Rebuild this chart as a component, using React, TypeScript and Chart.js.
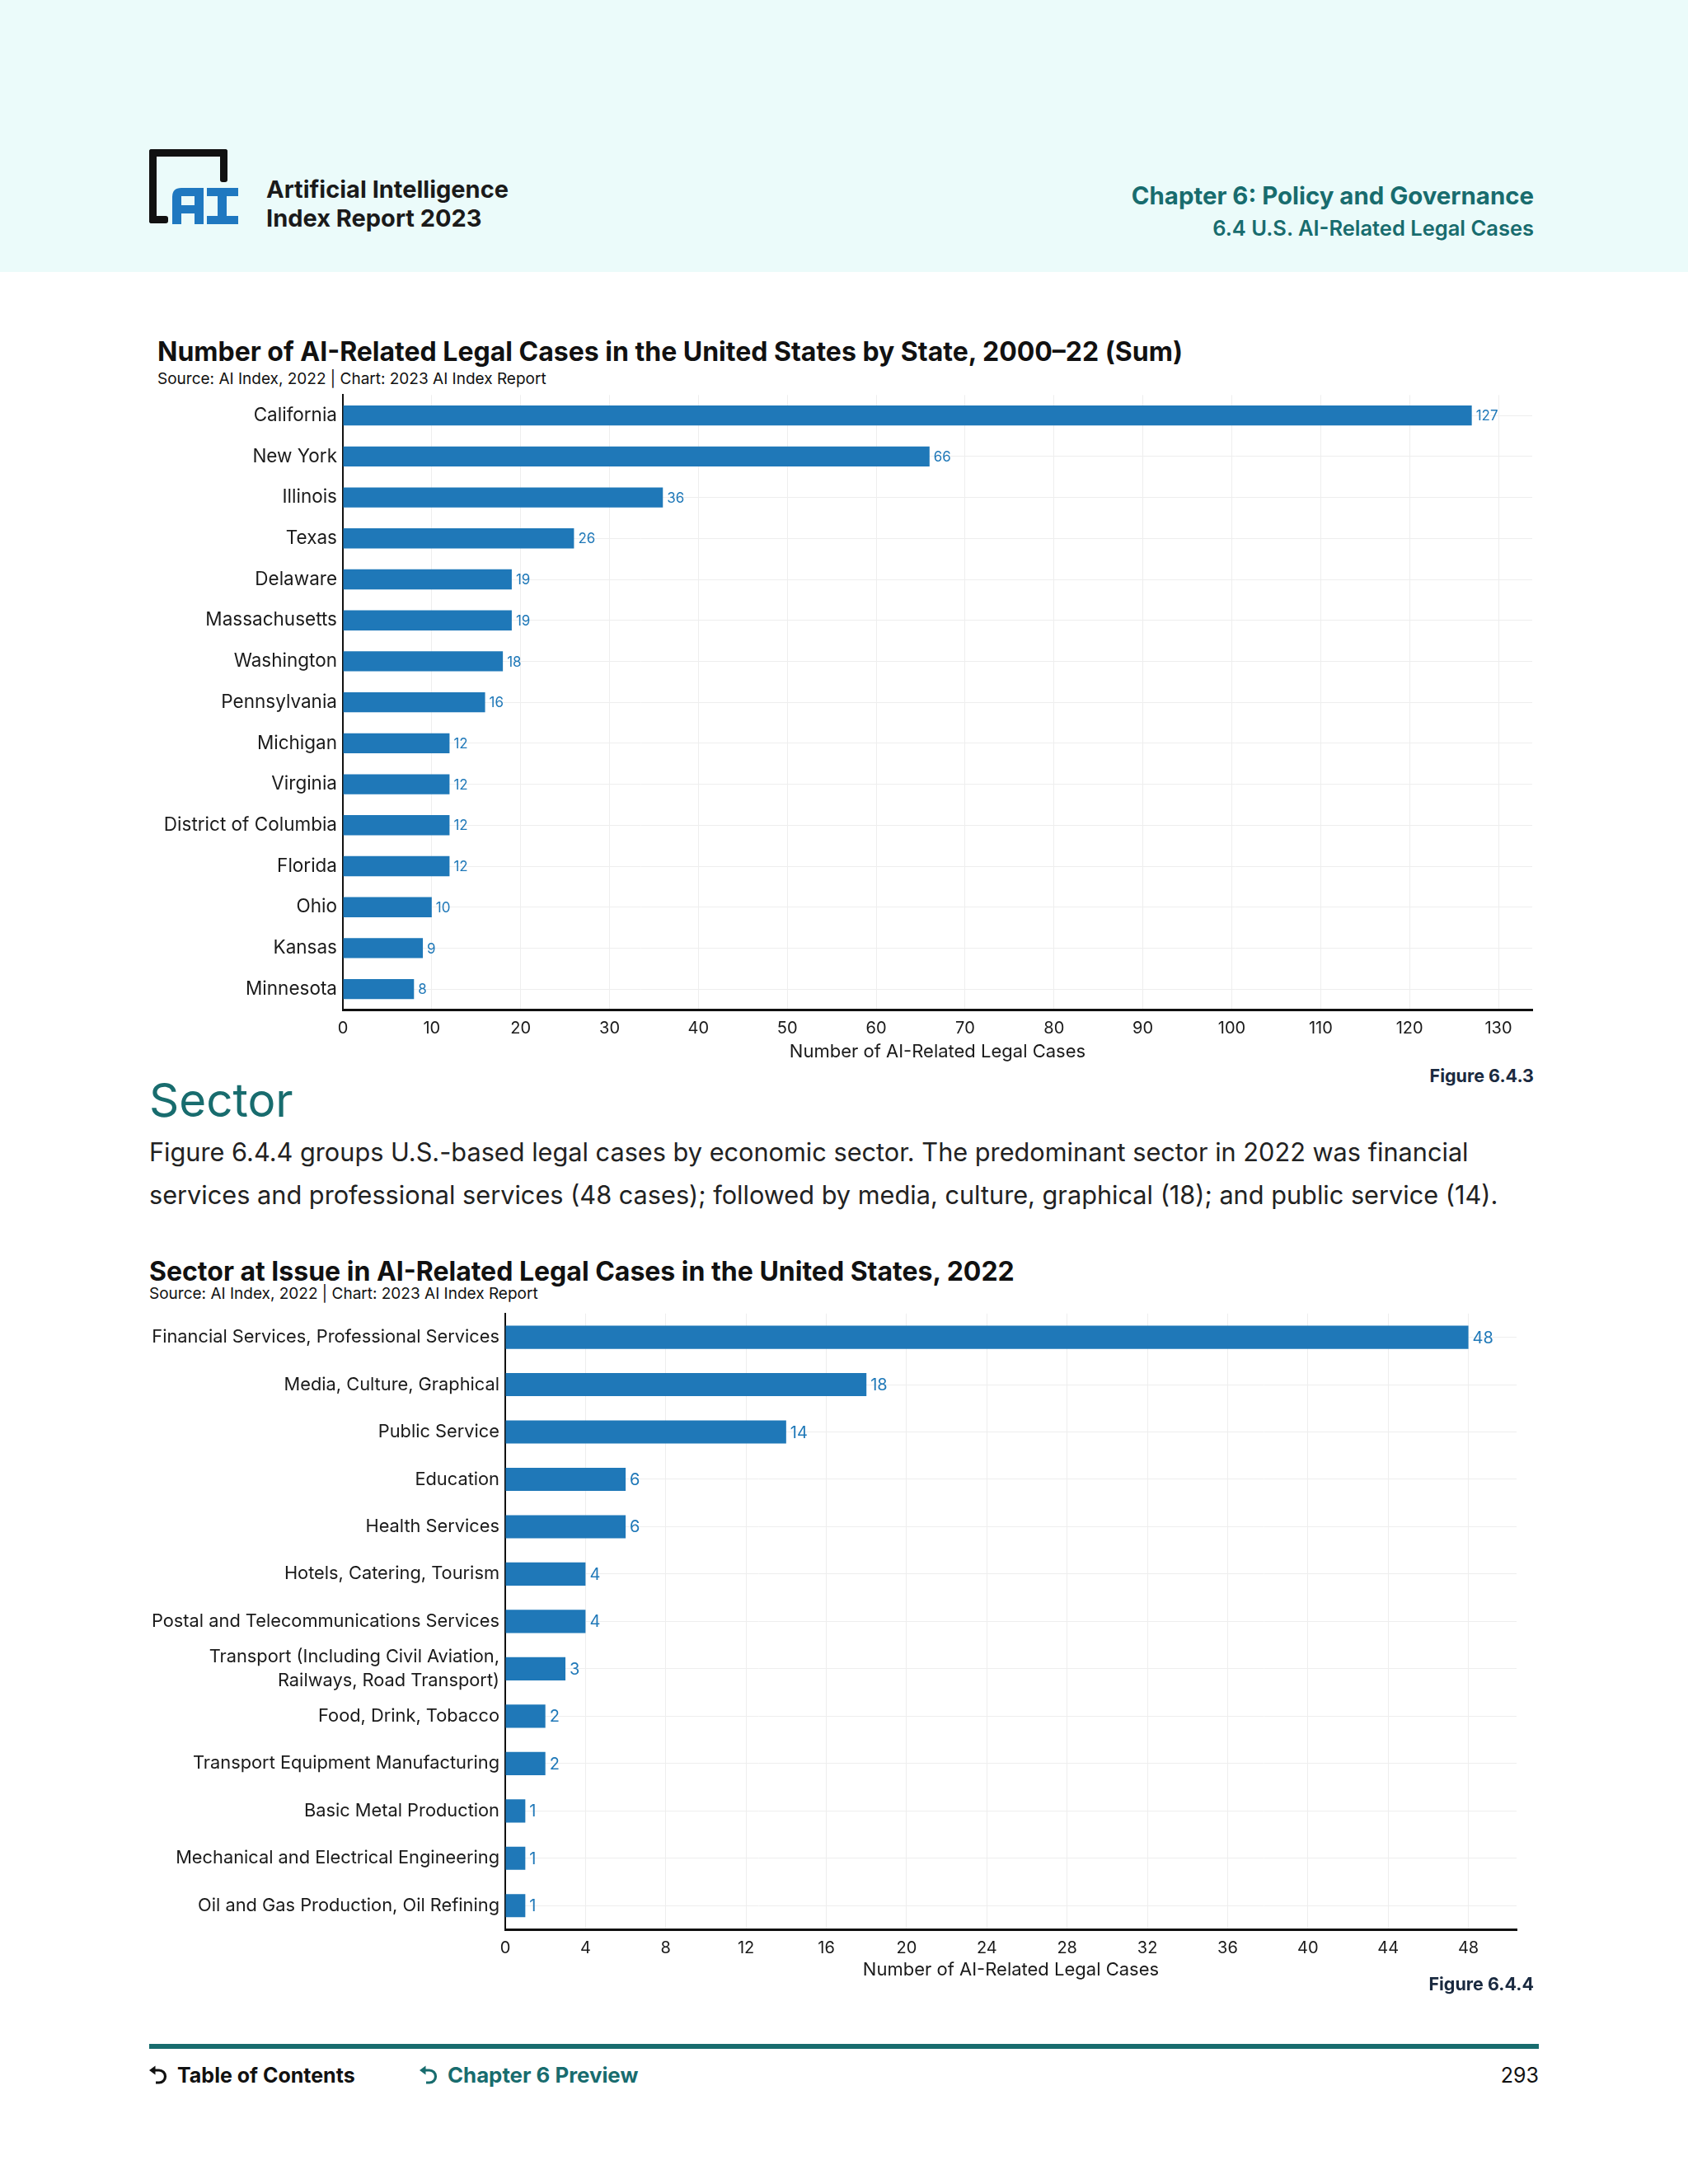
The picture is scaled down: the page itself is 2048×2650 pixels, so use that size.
import React, { useEffect, useRef } from "react";
import { Chart, registerables } from "chart.js";

Chart.register(...registerables);

const FONT = "Inter, Lato, 'Noto Sans', sans-serif";

const states = [
  "California", "New York", "Illinois", "Texas", "Delaware", "Massachusetts", "Washington",
  "Pennsylvania", "Michigan", "Virginia", "District of Columbia", "Florida", "Ohio", "Kansas", "Minnesota",
];
const stateCases = [127, 66, 36, 26, 19, 19, 18, 16, 12, 12, 12, 12, 10, 9, 8];

const sectors: (string | string[])[] = [
  "Financial Services, Professional Services",
  "Media, Culture, Graphical",
  "Public Service",
  "Education",
  "Health Services",
  "Hotels, Catering, Tourism",
  "Postal and Telecommunications Services",
  ["Transport (Including Civil Aviation,", "Railways, Road Transport)"],
  "Food, Drink, Tobacco",
  "Transport Equipment Manufacturing",
  "Basic Metal Production",
  "Mechanical and Electrical Engineering",
  "Oil and Gas Production, Oil Refining",
];
const sectorCases = [48, 18, 14, 6, 6, 4, 4, 3, 2, 2, 1, 1, 1];

const BLUE = "#1f78b8";
const TEAL = "#186c6e";

const valueLabels = {
  id: "valueLabels",
  afterDatasetsDraw(chart: any, _args: any, opts: any) {
    const { ctx } = chart;
    const meta = chart.getDatasetMeta(0);
    const data = chart.data.datasets[0].data;
    ctx.save();
    ctx.font = opts.font;
    ctx.fillStyle = opts.color;
    ctx.textBaseline = "middle";
    ctx.textAlign = "left";
    meta.data.forEach((bar: any, i: number) => {
      ctx.fillText(String(data[i]), bar.x + opts.offset, bar.y + 1);
    });
    ctx.restore();
  },
};

type BarCfg = {
  labels: (string | string[])[];
  values: number[];
  max: number;
  step: number;
  yWidth: number;
  xHeight: number;
  padRight: number;
  padTop: number;
  labelFont: string;
  tickSize: number;
  yTickSize: number;
  barPct: number;
};

function BarChart({ cfg, style }: { cfg: BarCfg; style: React.CSSProperties }) {
  const ref = useRef<HTMLCanvasElement>(null);
  useEffect(() => {
    if (!ref.current) return;
    const chart = new Chart(ref.current, {
      type: "bar",
      data: {
        labels: cfg.labels as any,
        datasets: [
          {
            data: cfg.values,
            backgroundColor: BLUE,
            borderWidth: 0,
            categoryPercentage: 1,
            barPercentage: cfg.barPct,
          },
        ],
      },
      plugins: [valueLabels as any],
      options: {
        indexAxis: "y",
        animation: false,
        responsive: true,
        maintainAspectRatio: false,
        layout: { padding: { top: cfg.padTop, right: cfg.padRight, bottom: 0, left: 0 } },
        plugins: {
          legend: { display: false },
          tooltip: { enabled: false },
          valueLabels: { font: cfg.labelFont, color: BLUE, offset: 5 },
        } as any,
        scales: {
          x: {
            min: 0,
            max: cfg.max,
            grid: { color: "#eeeeee", lineWidth: 1, drawTicks: false },
            border: { color: "#111111", width: 3 },
            ticks: {
              stepSize: cfg.step,
              includeBounds: false,
              padding: 11,
              color: "#1a1a1a",
              font: { family: FONT, size: cfg.tickSize },
            },
            title: {
              display: true,
              text: "Number of AI-Related Legal Cases",
              color: "#1a1a1a",
              font: { family: FONT, size: 22 },
              padding: { top: 0, bottom: 0 },
            },
            afterFit: (s: any) => {
              s.height = cfg.xHeight;
            },
          },
          y: {
            grid: { color: "#eeeeee", lineWidth: 1, drawTicks: false, offset: false },
            border: { color: "#111111", width: 2 },
            ticks: {
              padding: 7,
              color: "#1a1a1a",
              font: { family: FONT, size: cfg.yTickSize, lineHeight: 1.36 },
              autoSkip: false,
            },
            afterFit: (s: any) => {
              s.width = cfg.yWidth;
            },
          },
        } as any,
      },
    });
    return () => chart.destroy();
  }, []);
  return (
    <div style={{ position: "absolute", ...style }}>
      <canvas ref={ref} />
    </div>
  );
}

function Text({
  x, y, size, children, weight = 400, color = "#1a1a1a", align = "left", lh = 1.2,
}: {
  x: number; y: number; size: number; children: React.ReactNode; weight?: number; color?: string;
  align?: "left" | "right"; lh?: number;
}) {
  const lineH = size * lh;
  const st: React.CSSProperties = {
    position: "absolute",
    top: y - lineH / 2,
    fontFamily: FONT,
    fontSize: size,
    fontWeight: weight,
    color,
    lineHeight: `${lineH}px`,
    whiteSpace: "nowrap",
  };
  if (align === "left") st.left = x;
  else st.right = 2048 - x;
  return <div style={st}>{children}</div>;
}

function BackArrow({ x, y, color }: { x: number; y: number; color: string }) {
  return (
    <svg style={{ position: "absolute", left: x, top: y }} width="26" height="26" viewBox="0 0 26 26">
      <path d="M6 6 H13 A7.5 7.5 0 0 1 13 21 H9" fill="none" stroke={color} strokeWidth="3.2" />
      <path d="M1 6 L8.5 0.5 L8.5 11.5 Z" fill={color} />
    </svg>
  );
}

const stateCfg: BarCfg = {
  labels: states,
  values: stateCases,
  max: 133.8,
  step: 10,
  yWidth: 266,
  xHeight: 65,
  padRight: 21,
  padTop: 7,
  labelFont: `17px ${FONT}`,
  tickSize: 20,
  yTickSize: 22.5,
  barPct: 0.49,
};

const sectorCfg: BarCfg = {
  labels: sectors,
  values: sectorCases,
  max: 50.4,
  step: 4,
  yWidth: 463,
  xHeight: 63,
  padRight: 20,
  padTop: 7,
  labelFont: `20px ${FONT}`,
  tickSize: 20,
  yTickSize: 21.8,
  barPct: 0.49,
};

export default function App() {
  return (
    <div
      style={{
        position: "absolute",
        left: 0,
        top: 0,
        width: 2048,
        height: 2650,
        background: "#ffffff",
        overflow: "hidden",
      }}
    >
      <div style={{ position: "absolute", left: 0, top: 0, width: 2048, height: 330, background: "#ebfbfa" }} />
      <svg style={{ position: "absolute", left: 180, top: 180 }} width="112" height="98" viewBox="0 0 112 98">
        <rect x="1" y="1" width="95" height="9" rx="3" fill="#111" />
        <rect x="1" y="1" width="9" height="90" rx="3" fill="#111" />
        <rect x="87" y="1" width="9" height="40" rx="3" fill="#111" />
        <rect x="1" y="82" width="23" height="9" rx="3" fill="#111" />
        <path
          fillRule="evenodd"
          d="M29 92 V59 Q29 48 40 48 H67 V92 H56 V79 H40 V92 Z M40 58 H56 V69 H40 Z"
          fill="#1f78c0"
        />
        <path d="M71 48 H109 V58 H95 V82 H109 V92 H71 V82 H84 V58 H71 Z" fill="#1f78c0" />
      </svg>
      <Text x={323} y={230} size={29} weight={700}>Artificial Intelligence</Text>
      <Text x={323} y={265} size={29} weight={700}>Index Report 2023</Text>
      <Text x={1861} y={238} size={29.4} weight={700} color={TEAL} align="right">Chapter 6: Policy and Governance</Text>
      <Text x={1861} y={277} size={25.5} weight={600} color={TEAL} align="right">6.4 U.S. AI-Related Legal Cases</Text>

      <Text x={191} y={427} size={32} weight={700} color="#111">
        Number of AI-Related Legal Cases in the United States by State, 2000–22 (Sum)
      </Text>
      <Text x={191} y={460} size={19} color="#111">Source: AI Index, 2022 | Chart: 2023 AI Index Report</Text>
      <BarChart cfg={stateCfg} style={{ left: 150, top: 457, width: 1730, height: 833 }} />
      <Text x={1861} y={1306} size={21.5} weight={700} color="#1a2a40" align="right">Figure 6.4.3</Text>

      <Text x={181} y={1335} size={56.5} color={TEAL}>Sector</Text>
      <div
        style={{
          position: "absolute",
          left: 181,
          top: 1372,
          fontFamily: FONT,
          fontSize: 30.7,
          lineHeight: "52px",
          color: "#222",
          whiteSpace: "nowrap",
        }}
      >
        Figure 6.4.4 groups U.S.-based legal cases by economic sector. The predominant sector in 2022 was financial
        <br />
        services and professional services (48 cases); followed by media, culture, graphical (18); and public service (14).
      </div>

      <Text x={181} y={1543} size={32} weight={700} color="#111">
        Sector at Issue in AI-Related Legal Cases in the United States, 2022
      </Text>
      <Text x={181} y={1570} size={19} color="#111">Source: AI Index, 2022 | Chart: 2023 AI Index Report</Text>
      <BarChart cfg={sectorCfg} style={{ left: 150, top: 1572, width: 1710, height: 832 }} />
      <Text x={1861} y={2408} size={21.5} weight={700} color="#1a2a40" align="right">Figure 6.4.4</Text>

      <div style={{ position: "absolute", left: 181, top: 2480, width: 1686, height: 6, background: TEAL }} />
      <BackArrow x={180} y={2506} color="#111" />
      <Text x={215} y={2518} size={25} weight={700} color="#111">Table of Contents</Text>
      <BackArrow x={508} y={2506} color={TEAL} />
      <Text x={543} y={2518} size={25.8} weight={700} color={TEAL}>Chapter 6 Preview</Text>
      <Text x={1867} y={2518} size={25} color="#111" align="right">293</Text>
    </div>
  );
}
